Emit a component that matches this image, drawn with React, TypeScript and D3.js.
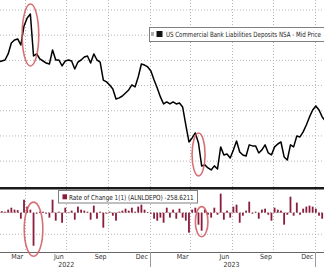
import React, { useLayoutEffect, useRef, useState } from "react";
import * as d3 from "d3";

// Weekly observations, first week starting 2022-02-02
const START_DATE = "2022-02-02";
const SERIES_NAME = "US Commercial Bank Liabilities Deposits NSA - Mid Price";
const ROC_NAME = "Rate of Change 1(1) (ALNLDEPO) -258.6211";

// Deposits, $bn (weekly)
const deposits = [
  17787, 17795, 17803, 17851, 17938, 17962, 17970, 17922, 18073, 18137,
  18168, 17835, 17851, 17811, 17795, 17779, 17771, 17883, 17803, 17803,
  17756, 17795, 17803, 17795, 17732, 17787, 17803, 17827, 17835, 17779,
  17851, 17803, 17787, 17644, 17629, 17605, 17573, 17494, 17502, 17517,
  17541, 17565, 17605, 17589, 17668, 17771, 17763, 17748, 17716, 17644,
  17581, 17510, 17454, 17470, 17454, 17470, 17454, 17462, 17430, 17287,
  17152, 17184, 17224, 17144, 16962, 16970, 16946, 16930, 16962, 16938,
  17113, 17049, 17057, 17025, 17089, 17160, 17073, 17049, 17041, 17129,
  17121, 17121, 17065, 17089, 17129, 17065, 17049, 17113, 17136, 17152,
  17033, 17009, 17129, 17113, 17200, 17192, 17232, 17287, 17351, 17406,
  17438, 17406, 17351, 17319,
];

// Weekly rate of change, $bn
const rateOfChange = [
  5, 14, 9, 28, 46, 28, 23, -56, 120, 56,
  28, -306, -9, 9, 9, -9, -46, 120, -74, 9,
  -93, 46, 5, 19, -65, 56, 28, 19, 9, -65,
  65, -56, 9, -139, -9, 9, -28, -74, 9, 19,
  37, 19, 46, 9, 56, 74, 28, 5, -9, -56,
  -74, -46, -93, 46, -46, 28, -56, 37, -46, -74,
  -185, 28, 46, -111, -167, 28, -19, -46, 46, -19,
  176, -65, 19, -46, 56, 74, -93, -28, 19, 102,
  -9, 9, -56, 28, 37, -19, -74, 46, 28, 19,
  -111, -19, 148, -28, 93, -19, 37, 56, 65, 56,
  37, -28, -56, -37,
];

const highlightIndex = [11, 64];

const monthLabels = ["Mar", "Jun", "Sep", "Dec", "Mar", "Jun", "Sep", "Dec"];
const monthLabelDates = [
  "2022-03-15", "2022-06-15", "2022-09-15", "2022-12-15",
  "2023-03-15", "2023-06-15", "2023-09-15", "2023-12-15",
];
const yearLabels = ["2022", "2023"];
const yearLabelDates = ["2022-07-01", "2023-07-01"];
const gridDates = [
  "2022-04-01", "2022-07-01", "2022-10-01", "2023-01-01",
  "2023-04-01", "2023-07-01", "2023-10-01", "2024-01-01",
];
const yearDividerDates = ["2023-01-01", "2024-01-01"];
const depositTicks = [17000, 17200, 17400, 17600, 17800, 18000, 18200];
const rocTicks = [0, -200];

const W = 324;
const H = 267;
const parse = d3.utcParse("%Y-%m-%d");
const FONT = "'Liberation Sans Narrow', 'DejaVu Sans Condensed', 'Liberation Sans', Arial, sans-serif";

function FitText({ x, y, width, fontSize, children }: { x: number; y: number; width: number; fontSize: number; children: string }) {
  const ref = useRef<SVGTextElement>(null);
  const [sx, setSx] = useState(1);
  useLayoutEffect(() => {
    if (ref.current) {
      const w = ref.current.getComputedTextLength();
      if (w > 0) setSx(width / w);
    }
  }, [width, children]);
  return (
    <g transform={`translate(${x},${y}) scale(${sx},1)`}>
      <text ref={ref} x={0} y={0} fontSize={fontSize} fill="#222">{children}</text>
    </g>
  );
}

export default function App() {
  const start = parse(START_DATE)!;
  const dates = deposits.map((_, k) => d3.utcDay.offset(start, 7 * k));

  const x = d3.scaleUtc()
    .domain([parse("2022-02-05")!, parse("2024-01-21")!])
    .range([0, W]);

  const topY0 = 0, topY1 = 188;
  const botY0 = 189, botY1 = 252;
  const yTop = d3.scaleLinear().domain([16786.6, 18279.4]).range([topY1, topY0]);
  const yBot = d3.scaleLinear().domain([-364, 219]).range([botY1, botY0]);

  const line = d3.line<number>()
    .x((_, k) => x(dates[k]))
    .y((v) => yTop(v));

  const gridColor = "#b5b5b5";
  const barColor = "#8a1c3c";
  const ringColor = "#cf5a60";
  const ringPad = [10.5, 6];

  const ellipses = highlightIndex.map((k, j) => {
    const xc = (x(dates[k - 1]) + x(dates[k])) / 2;
    const yc = (yTop(deposits[k - 1]) + yTop(deposits[k])) / 2;
    const ry = Math.abs(yTop(deposits[k - 1]) - yTop(deposits[k])) / 2 + 10;
    const bx = x(dates[k]);
    const by = (yBot(0) + yBot(rateOfChange[k])) / 2;
    const bry = Math.abs(yBot(rateOfChange[k]) - yBot(0)) / 2 + ringPad[j];
    return { xc, yc, ry, bx, by, bry };
  });

  return (
    <svg
      width={W}
      height={H}
      style={{ position: "fixed", left: 0, top: 0, background: "#fff" }}
      fontFamily={FONT}
    >
      <defs>
        <clipPath id="clipTop">
          <rect x={0} y={topY0} width={W} height={topY1 - topY0} />
        </clipPath>
        <clipPath id="clipBot">
          <rect x={0} y={botY0} width={W} height={botY1 - botY0} />
        </clipPath>
      </defs>
      <rect x={0} y={0} width={W} height={H} fill="#fff" />

      {/* grid */}
      {depositTicks.map((t) => (
        <line key={"ht" + t} x1={0} x2={W} y1={yTop(t)} y2={yTop(t)}
          stroke={gridColor} strokeWidth={1} strokeDasharray="1,2" />
      ))}
      {rocTicks.map((t) => (
        <line key={"hb" + t} x1={0} x2={W} y1={yBot(t)} y2={yBot(t)}
          stroke={gridColor} strokeWidth={1} strokeDasharray="1,2" />
      ))}
      {gridDates.map((d) => {
        const gx = Math.round(x(parse(d)!)) + 0.5;
        return (
          <g key={"v" + d}>
            <line x1={gx} x2={gx} y1={topY0} y2={topY1} stroke={gridColor} strokeDasharray="1,2" />
            <line x1={gx} x2={gx} y1={botY0} y2={botY1} stroke={gridColor} strokeDasharray="1,2" />
          </g>
        );
      })}

      {/* deposits line */}
      <g clipPath="url(#clipTop)">
        <path d={line(deposits) || ""} fill="none" stroke="#000" strokeWidth={1.5} strokeLinejoin="round" />
      </g>

      {/* rate of change bars */}
      <g clipPath="url(#clipBot)">
        {rateOfChange.map((v, k) => {
          const y0 = yBot(0);
          const y1 = yBot(v);
          return (
            <rect key={k} x={x(dates[k]) - 0.9} width={1.8}
              y={Math.min(y0, y1)} height={Math.max(0.6, Math.abs(y1 - y0))} fill={barColor} />
          );
        })}
      </g>

      {/* panel separator and axis line */}
      <line x1={0} x2={W} y1={188.3} y2={188.3} stroke="#1a1a1a" strokeWidth={2.4} />
      <line x1={0} x2={W} y1={botY1 + 0.5} y2={botY1 + 0.5} stroke="#666" strokeWidth={1} />

      {/* year dividers */}
      {yearDividerDates.map((d) => {
        const gx = Math.round(x(parse(d)!)) + 0.5;
        return <line key={"yd" + d} x1={gx} x2={gx} y1={botY1} y2={H} stroke="#999" strokeWidth={1} />;
      })}

      {/* axis labels */}
      {monthLabels.map((m, k) => (
        <text key={"m" + k} x={x(parse(monthLabelDates[k])!)} y={259} fontSize={7}
          textAnchor="middle" fill="#333">{m}</text>
      ))}
      {yearLabels.map((yl, k) => (
        <text key={"y" + k} x={x(parse(yearLabelDates[k])!)} y={266.5} fontSize={7}
          textAnchor="middle" fill="#333">{yl}</text>
      ))}

      {/* annotation ellipses */}
      {ellipses.map((e, k) => (
        <g key={"e" + k} fill="none" stroke={ringColor} strokeWidth={1.6} opacity={0.85}>
          <ellipse cx={e.xc - 1.5} cy={e.yc} rx={k === 0 ? 8.3 : 6.5} ry={e.ry} />
          <ellipse cx={e.bx} cy={e.by} rx={k === 0 ? 9.3 : 6.3} ry={e.bry} />
        </g>
      ))}

      {/* upper legend */}
      <rect x={149.5} y={27.5} width={185} height={14} fill="#fff" stroke="#808080" strokeWidth={1} />
      <rect x={151} y={32} width={3} height={4} fill="#b0b0b0" />
      <rect x={156.5} y={31} width={6} height={6} fill="#111" />
      <FitText x={166} y={37.3} width={155} fontSize={7.2}>{SERIES_NAME}</FitText>

      {/* lower legend */}
      <rect x={58.5} y={190.5} width={139} height={12.5} fill="#fff" stroke="#808080" strokeWidth={1} />
      <rect x={62.5} y={194.3} width={4.5} height={5} fill={barColor} />
      <FitText x={69} y={199.8} width={125} fontSize={7}>{ROC_NAME}</FitText>
    </svg>
  );
}
